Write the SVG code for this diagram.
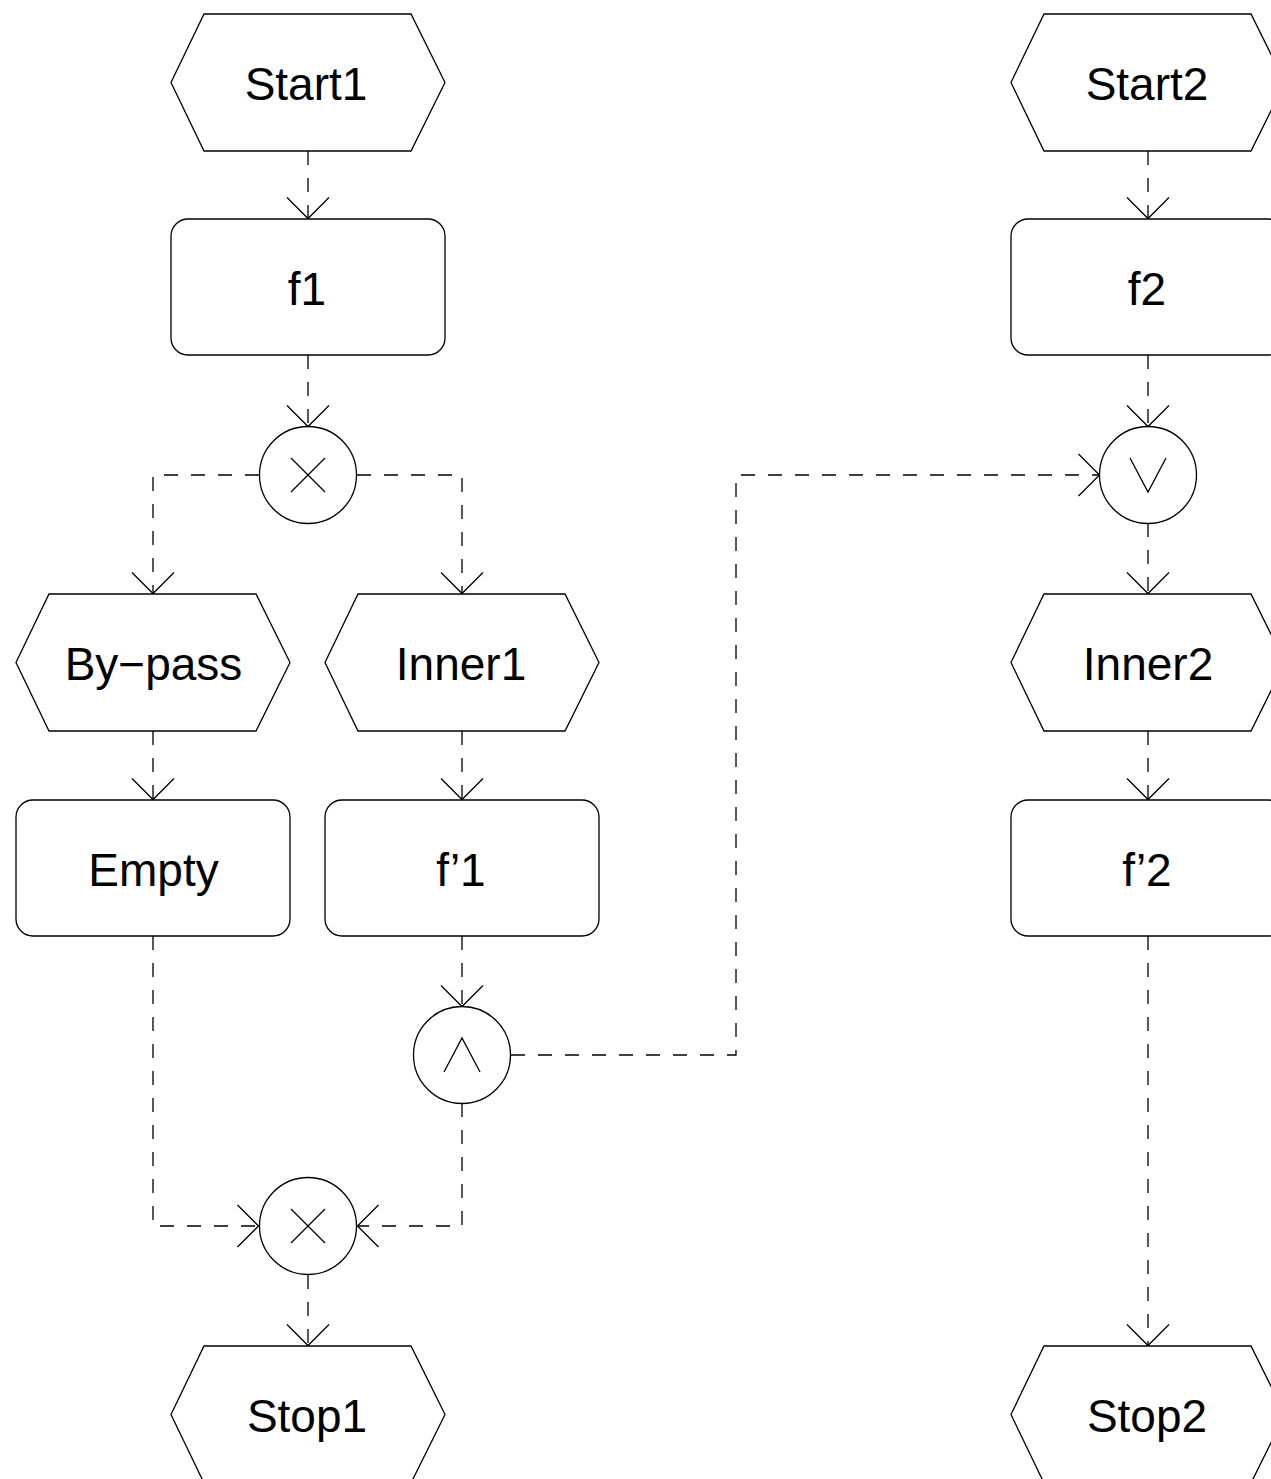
<svg xmlns="http://www.w3.org/2000/svg" width="1271" height="1479" viewBox="0 0 1271 1479">
<style>
.shape{fill:#fff;stroke:#000;stroke-width:1.3}
.sym{fill:none;stroke:#000;stroke-width:1.3}
.lbl{font-family:"Liberation Sans",Arial,sans-serif;font-size:46px;text-anchor:middle;fill:#000}
.conn{fill:none;stroke:#000;stroke-width:1.3;stroke-dasharray:14 13}
</style>
<defs>
<marker id="arr" viewBox="-25 -25 30 50" refX="0" refY="0" markerWidth="30" markerHeight="50" markerUnits="userSpaceOnUse" orient="auto" overflow="visible">
<path d="M-21,-21 L0,0 L-21,21" fill="none" stroke="#000" stroke-width="1.3" stroke-dasharray="none"/>
</marker>
</defs>
<rect width="1271" height="1479" fill="#fff"/>
<g id="connectors">
<path class="conn" d="M308,151 V218.5" marker-end="url(#arr)"/>
<path class="conn" d="M308,355 V426.5" marker-end="url(#arr)"/>
<path class="conn" d="M259,475 H153 V593.5" marker-end="url(#arr)"/>
<path class="conn" d="M357,475 H462 V593.5" marker-end="url(#arr)"/>
<path class="conn" d="M153,731 V799.5" marker-end="url(#arr)"/>
<path class="conn" d="M462,731 V799.5" marker-end="url(#arr)"/>
<path class="conn" d="M462,936 V1006.5" marker-end="url(#arr)"/>
<path class="conn" d="M153,936 V1226 H258.5" marker-end="url(#arr)"/>
<path class="conn" d="M462,1103 V1226 H357.5" marker-end="url(#arr)"/>
<path class="conn" d="M308,1275 V1345.5" marker-end="url(#arr)"/>
<path class="conn" d="M511,1055 H736 V475 H1099.5" marker-end="url(#arr)"/>
<path class="conn" d="M1148,151 V218.5" marker-end="url(#arr)"/>
<path class="conn" d="M1148,355 V426.5" marker-end="url(#arr)"/>
<path class="conn" d="M1148,523 V593.5" marker-end="url(#arr)"/>
<path class="conn" d="M1148,731 V799.5" marker-end="url(#arr)"/>
<path class="conn" d="M1148,936 V1345.5" marker-end="url(#arr)"/>
</g>
<g id="start1">
<polygon class="shape" points="171,82.5 204,14 411,14 445,82.5 411,151 204,151"/>
<text class="lbl" x="306" y="100">Start1</text>
</g>
<g id="f1">
<rect class="shape" x="171" y="219" width="274" height="136" rx="17"/>
<text class="lbl" x="307" y="304.5">f1</text>
</g>
<g id="xor-split">
<circle class="shape" cx="308" cy="475" r="48.5"/>
<path class="sym" d="M291,458 L325,492 M325,458 L291,492"/>
</g>
<g id="bypass">
<polygon class="shape" points="16,662.5 49,594 256,594 290,662.5 256,731 49,731"/>
<text class="lbl" x="153.5" y="680">By−pass</text>
</g>
<g id="inner1">
<polygon class="shape" points="325,662.5 358,594 565,594 599,662.5 565,731 358,731"/>
<text class="lbl" x="461" y="680">Inner1</text>
</g>
<g id="empty">
<rect class="shape" x="16" y="800" width="274" height="136" rx="17"/>
<text class="lbl" x="153.5" y="885.5">Empty</text>
</g>
<g id="fprime1">
<rect class="shape" x="325" y="800" width="274" height="136" rx="17"/>
<text class="lbl" x="461" y="885.5">f’1</text>
</g>
<g id="and">
<circle class="shape" cx="462" cy="1055" r="48.5"/>
<path class="sym" d="M444,1072 L462,1038 L480,1072"/>
</g>
<g id="xor-join">
<circle class="shape" cx="308" cy="1226" r="48.5"/>
<path class="sym" d="M291,1209 L325,1243 M325,1209 L291,1243"/>
</g>
<g id="stop1">
<polygon class="shape" points="171,1414.5 204,1346 411,1346 445,1414.5 411,1483 204,1483"/>
<text class="lbl" x="307" y="1432">Stop1</text>
</g>
<g id="start2">
<polygon class="shape" points="1011,82.5 1044,14 1251,14 1285,82.5 1251,151 1044,151"/>
<text class="lbl" x="1147" y="100">Start2</text>
</g>
<g id="f2">
<rect class="shape" x="1011" y="219" width="274" height="136" rx="17"/>
<text class="lbl" x="1147" y="304.5">f2</text>
</g>
<g id="or">
<circle class="shape" cx="1148" cy="475" r="48.5"/>
<path class="sym" d="M1130,458 L1148,492 L1166,458"/>
</g>
<g id="inner2">
<polygon class="shape" points="1011,662.5 1044,594 1251,594 1285,662.5 1251,731 1044,731"/>
<text class="lbl" x="1148" y="680">Inner2</text>
</g>
<g id="fprime2">
<rect class="shape" x="1011" y="800" width="274" height="136" rx="17"/>
<text class="lbl" x="1147" y="885.5">f’2</text>
</g>
<g id="stop2">
<polygon class="shape" points="1011,1414.5 1044,1346 1251,1346 1285,1414.5 1251,1483 1044,1483"/>
<text class="lbl" x="1147" y="1432">Stop2</text>
</g>
</svg>
